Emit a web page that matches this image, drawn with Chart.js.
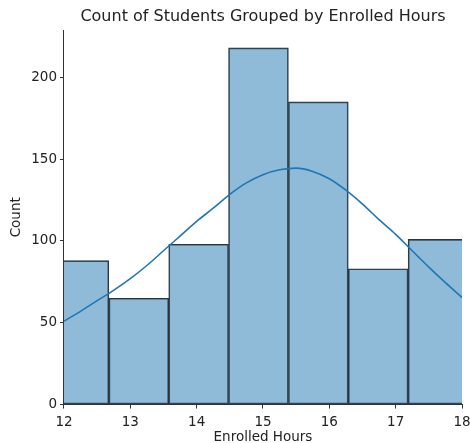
<!DOCTYPE html>
<html>
<head>
<meta charset="utf-8">
<script src="https://cdn.jsdelivr.net/npm/chart.js"></script>
<style>
  html, body { margin: 0; padding: 0; background: #fff; }
</style>
</head>
<body>
<canvas id="histChart" width="470" height="443"></canvas>
<script>
// histogram bins (left edges + last right edge), counts and kde curve
const binEdges = [11.774, 12.677, 13.579, 14.481, 15.383, 16.286, 17.188, 18.090];
const counts = [88, 65, 98, 218, 185, 83, 101];

const kdeX = [12.0, 12.25, 12.5, 12.68, 13.0, 13.25, 13.5, 13.75, 14.0, 14.25, 14.5, 14.75,
              15.0, 15.25, 15.5, 15.75, 16.0, 16.25, 16.5, 16.75, 17.0, 17.25, 17.5, 17.75, 18.0];
const kdeY = [51, 57, 63.5, 68, 77, 85, 94, 103, 112, 120, 128.5, 135.5,
              140.5, 143.5, 144.5, 142.5, 138, 131, 122.5, 113, 104, 94, 84, 74.5, 65.5];

const xTicks = [12, 13, 14, 15, 16, 17, 18];
const yTicks = [0, 50, 100, 150, 200];

const FONT = "'DejaVu Sans', sans-serif";

const barData = counts.map((c, i) => ({ x: (binEdges[i] + binEdges[i + 1]) / 2, y: c }));
const kdeData = kdeX.map((x, i) => ({ x: x, y: kdeY[i] }));

// title centred over the plot area, like matplotlib does
const plotTitle = {
  id: "plotTitle",
  afterDraw(chart) {
    const { ctx, chartArea } = chart;
    ctx.save();
    ctx.font = "16px " + FONT;
    ctx.fillStyle = "#222";
    ctx.textAlign = "center";
    ctx.textBaseline = "middle";
    ctx.fillText("Count of Students Grouped by Enrolled Hours", (chartArea.left + chartArea.right) / 2, 17);
    ctx.restore();
  }
};

new Chart(document.getElementById("histChart").getContext("2d"), {
  type: "bar",
  data: {
    datasets: [
      {
        type: "line",
        data: kdeData,
        borderColor: "#1f77b4",
        borderWidth: 1.6,
        pointRadius: 0,
        cubicInterpolationMode: "monotone",
        fill: false,
        order: 0
      },
      {
        type: "bar",
        data: barData,
        backgroundColor: "rgba(31,119,180,0.5)",
        borderColor: "#333",
        borderWidth: 1,
        borderSkipped: false,
        barPercentage: 1,
        categoryPercentage: 1,
        clip: 0,
        order: 1
      }
    ]
  },
  options: {
    responsive: false,
    animation: false,
    layout: { padding: { left: 8, right: 0, top: 30, bottom: -3 } },
    plugins: {
      legend: { display: false },
      tooltip: { enabled: false }
    },
    scales: {
      x: {
        type: "linear",
        min: 12,
        max: 18,
        offset: false,
        afterBuildTicks: (s) => { s.ticks = xTicks.map(v => ({ value: v })); },
        afterFit: (s) => { s.paddingRight = 8; },
        grid: { display: true, offset: false, drawOnChartArea: false, drawTicks: true, tickLength: 4, color: "#333" },
        border: { display: true, color: "#333", width: 1 },
        ticks: { color: "#222", font: { family: FONT, size: 13.5 }, padding: 6, maxRotation: 0 },
        title: { display: true, text: "Enrolled Hours", color: "#222", font: { family: FONT, size: 13.5 }, padding: { top: -7, bottom: 0 } }
      },
      y: {
        min: 0,
        max: 228.9,
        afterBuildTicks: (s) => { s.ticks = yTicks.map(v => ({ value: v })); },
        grid: { display: true, drawOnChartArea: false, drawTicks: true, tickLength: 4, color: "#333" },
        border: { display: true, color: "#333", width: 1 },
        ticks: { color: "#222", font: { family: FONT, size: 13.5 }, padding: 3 },
        title: { display: true, text: "Count", color: "#222", font: { family: FONT, size: 13.5 }, padding: { top: 0, bottom: 4 } }
      }
    }
  },
  plugins: [plotTitle]
});
</script>
</body>
</html>
